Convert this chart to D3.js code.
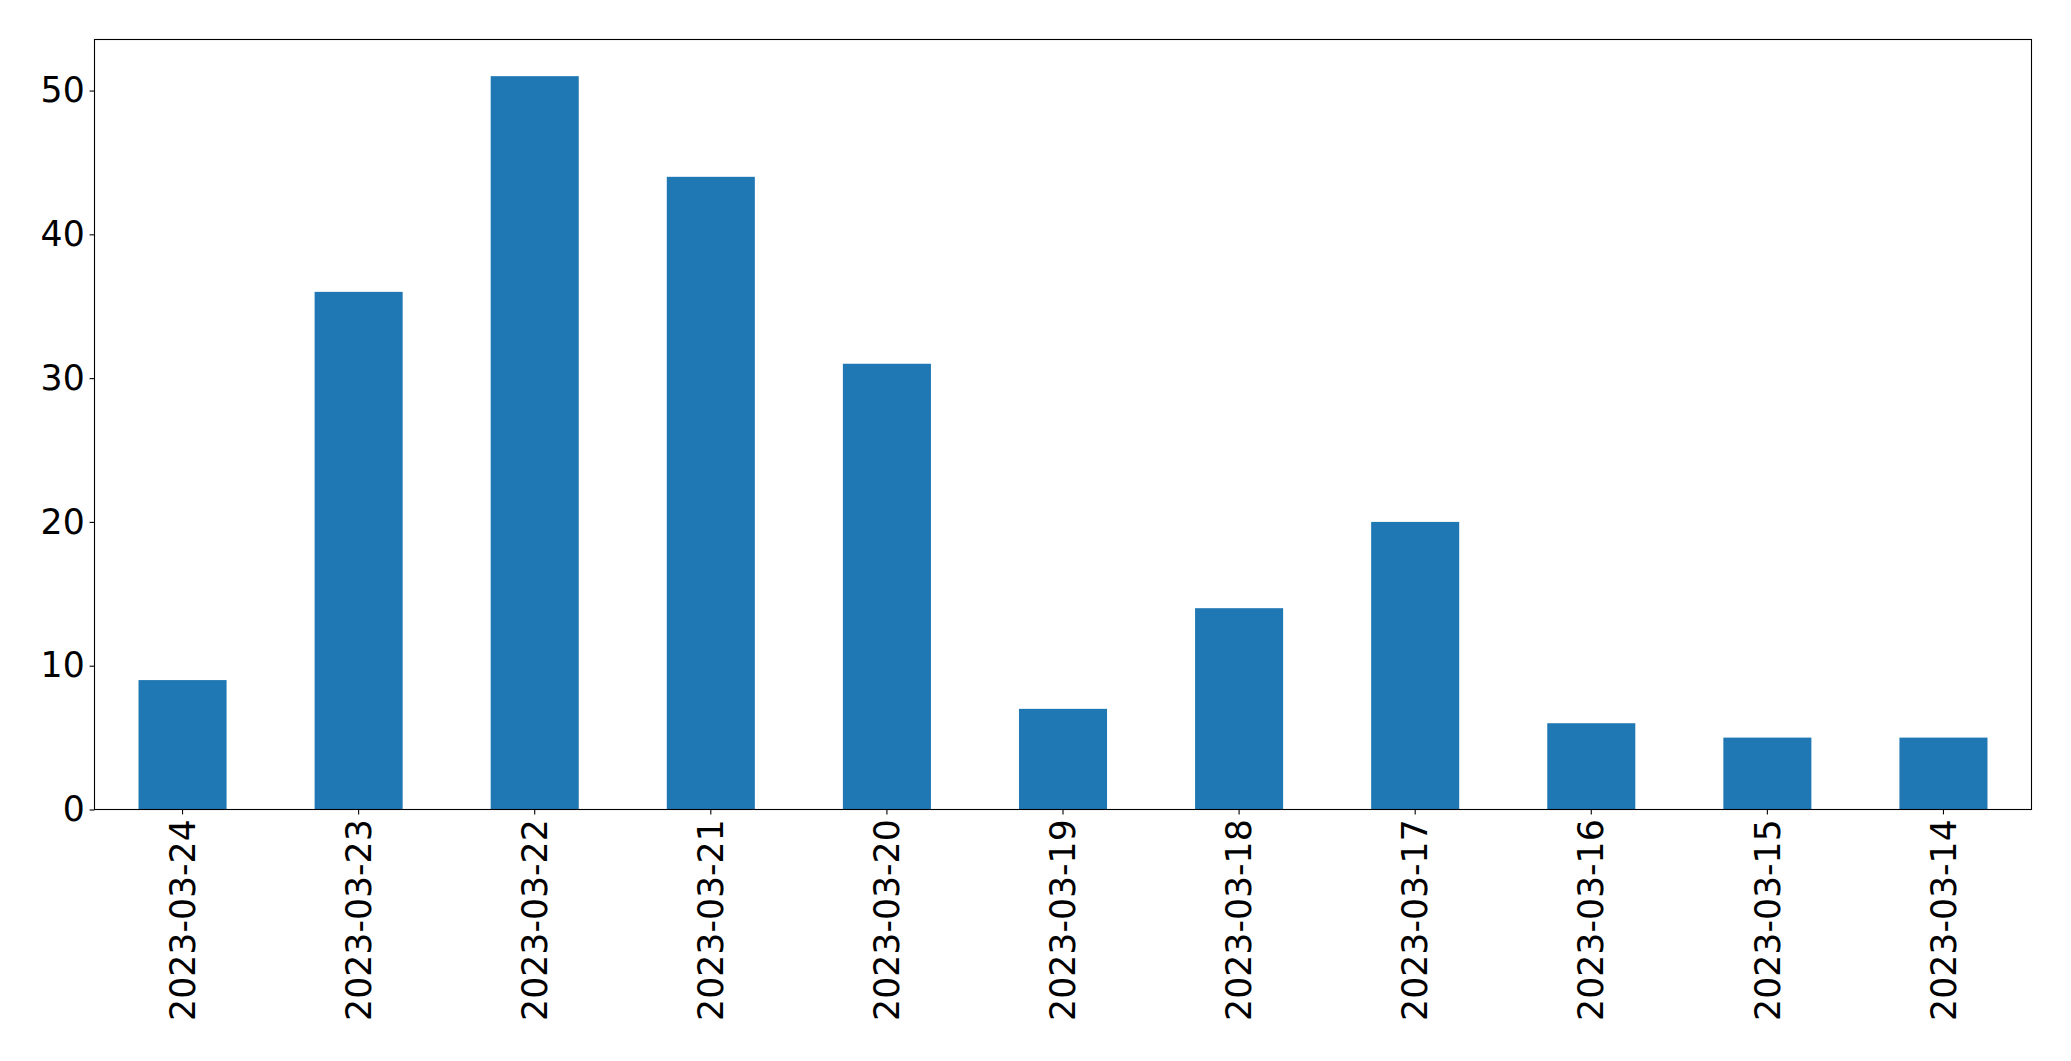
<!DOCTYPE html>
<html>
<head>
<meta charset="utf-8">
<script src="https://cdn.jsdelivr.net/npm/d3@7"></script>
<style>
  body { margin: 0; background: #fff; }
  .tick text { font-family: "DejaVu Sans", sans-serif; }
</style>
</head>
<body>
<svg id="chart"></svg>
<script>
// data
var dates = ["2023-03-24", "2023-03-23", "2023-03-22", "2023-03-21", "2023-03-20",
  "2023-03-19", "2023-03-18", "2023-03-17", "2023-03-16", "2023-03-15", "2023-03-14"];
var counts = [9, 36, 51, 44, 31, 7, 14, 20, 6, 5, 5];
var yTicks = [0, 10, 20, 30, 40, 50];

var W = 2071, H = 1061;
var margin = {left: 94.5, right: 2071 - 2031.5, top: 39.5, bottom: 1061 - 809.5};
var fontSize = 34.7;

var svg = d3.select("#chart").attr("width", W).attr("height", H);

var x = d3.scaleBand()
  .domain(dates)
  .range([margin.left, W - margin.right])
  .paddingInner(0.5)
  .paddingOuter(0.25);

var y = d3.scaleLinear()
  .domain([0, d3.max(counts) * 1.05])
  .range([H - margin.bottom, margin.top]);

// bars
svg.append("g")
  .selectAll("rect")
  .data(counts)
  .join("rect")
  .attr("x", function(d, i) { return x(dates[i]); })
  .attr("y", function(d) { return y(d); })
  .attr("width", x.bandwidth())
  .attr("height", function(d) { return y(0) - y(d); })
  .attr("fill", "#1f77b4");

// x axis
var xAxis = svg.append("g")
  .attr("transform", "translate(0," + (H - margin.bottom) + ")")
  .call(d3.axisBottom(x).tickSize(4.9).tickPadding(4.9));
xAxis.select(".domain").remove();
xAxis.selectAll(".tick line").attr("stroke", "#000").attr("stroke-width", 1.1);
xAxis.selectAll(".tick text")
  .attr("font-size", fontSize)
  .attr("fill", "#000")
  .attr("transform", "rotate(-90)")
  .attr("text-anchor", "end")
  .attr("x", -9.8)
  .attr("y", 0)
  .attr("dy", "0.35em");

// y axis
var yAxis = svg.append("g")
  .attr("transform", "translate(" + margin.left + ",0)")
  .call(d3.axisLeft(y).tickValues(yTicks).tickSize(4.9).tickPadding(4.9));
yAxis.select(".domain").remove();
yAxis.selectAll(".tick line").attr("stroke", "#000").attr("stroke-width", 1.1);
yAxis.selectAll(".tick text").attr("font-size", fontSize).attr("fill", "#000");

// frame
svg.append("rect")
  .attr("x", margin.left)
  .attr("y", margin.top)
  .attr("width", W - margin.right - margin.left)
  .attr("height", H - margin.bottom - margin.top)
  .attr("fill", "none")
  .attr("stroke", "#000")
  .attr("stroke-width", 1.1);
</script>
</body>
</html>
